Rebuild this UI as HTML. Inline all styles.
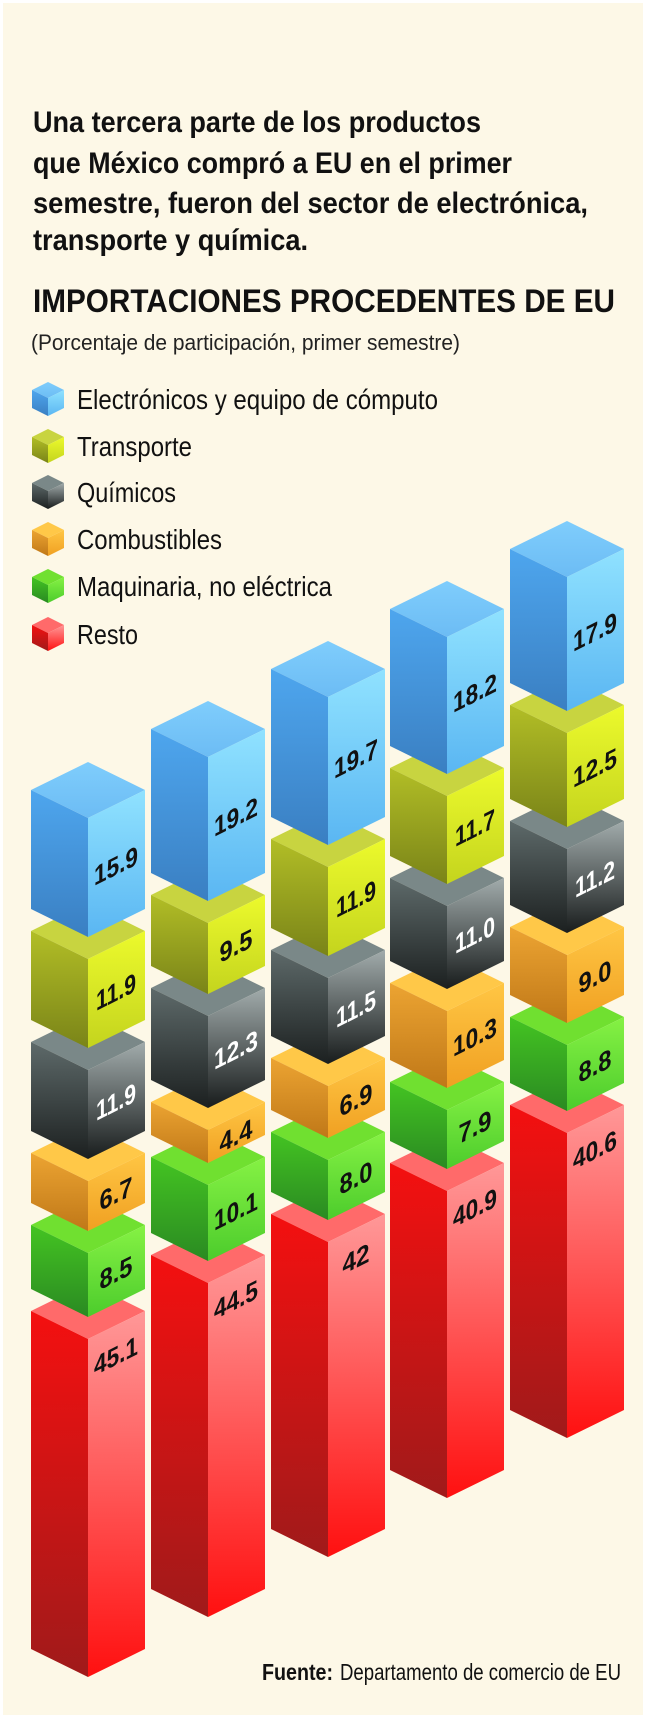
<!DOCTYPE html>
<html><head><meta charset="utf-8"><style>
html,body{margin:0;padding:0;background:#fff;}
svg{display:block;}
text{font-family:"Liberation Sans",sans-serif;}
</style></head><body>
<svg width="650" height="1718" viewBox="0 0 650 1718" xmlns="http://www.w3.org/2000/svg">
<defs>
<linearGradient id="bT" x1="0" y1="0" x2="0" y2="1"><stop offset="0" stop-color="#7fcdfc"/><stop offset="1" stop-color="#6cbcf4"/></linearGradient>
<linearGradient id="bL" x1="0" y1="0" x2="0" y2="1"><stop offset="0" stop-color="#4ea6ee"/><stop offset="1" stop-color="#3a7fc2"/></linearGradient>
<linearGradient id="bR" x1="0" y1="0" x2="0" y2="1"><stop offset="0" stop-color="#90e2ff"/><stop offset="1" stop-color="#5ab6f2"/></linearGradient>
<linearGradient id="yL" x1="0" y1="0" x2="0" y2="1"><stop offset="0" stop-color="#b2be26"/><stop offset="1" stop-color="#7a8418"/></linearGradient>
<linearGradient id="yR" x1="0" y1="0" x2="0" y2="1"><stop offset="0" stop-color="#ecfa2c"/><stop offset="1" stop-color="#c4d41e"/></linearGradient>
<linearGradient id="gL" x1="0" y1="0" x2="0" y2="1"><stop offset="0" stop-color="#5e6a6a"/><stop offset="1" stop-color="#1c2020"/></linearGradient>
<linearGradient id="gR" x1="0" y1="0" x2="0" y2="1"><stop offset="0" stop-color="#a2acac"/><stop offset="1" stop-color="#181c1c"/></linearGradient>
<linearGradient id="oL" x1="0" y1="0" x2="0" y2="1"><stop offset="0" stop-color="#eca432"/><stop offset="1" stop-color="#c07818"/></linearGradient>
<linearGradient id="oR" x1="0" y1="0" x2="0" y2="1"><stop offset="0" stop-color="#ffc644"/><stop offset="1" stop-color="#f0a022"/></linearGradient>
<linearGradient id="nL" x1="0" y1="0" x2="0" y2="1"><stop offset="0" stop-color="#44c422"/><stop offset="1" stop-color="#2a8a22"/></linearGradient>
<linearGradient id="nR" x1="0" y1="0" x2="0" y2="1"><stop offset="0" stop-color="#86f244"/><stop offset="1" stop-color="#4ccc2c"/></linearGradient>
<linearGradient id="rL" x1="0" y1="0" x2="0" y2="1"><stop offset="0" stop-color="#f41010"/><stop offset="1" stop-color="#a01a1a"/></linearGradient>
<linearGradient id="rR" x1="0" y1="0" x2="0" y2="1"><stop offset="0" stop-color="#ff9898"/><stop offset="1" stop-color="#ff1010"/></linearGradient>
</defs>
<rect x="3" y="3" width="640" height="1712" fill="#fdf8e7"/>

<g fill="#111">
<text x="33" y="132" font-size="30" font-weight="bold" textLength="448" lengthAdjust="spacingAndGlyphs">Una tercera parte de los productos</text>
<text x="33" y="173" font-size="30" font-weight="bold" textLength="479" lengthAdjust="spacingAndGlyphs">que México compró a EU en el primer</text>
<text x="33" y="213" font-size="30" font-weight="bold" textLength="555" lengthAdjust="spacingAndGlyphs">semestre, fueron del sector de electrónica,</text>
<text x="33" y="250" font-size="30" font-weight="bold" textLength="275" lengthAdjust="spacingAndGlyphs">transporte y química.</text>
<text x="33" y="312" font-size="32" font-weight="bold" textLength="582" lengthAdjust="spacingAndGlyphs">IMPORTACIONES PROCEDENTES DE EU</text>
<text x="31" y="350" font-size="22" textLength="429" lengthAdjust="spacingAndGlyphs" fill="#222">(Porcentaje de participación, primer semestre)</text>
</g>

<!-- legend -->
<g>
<g transform="translate(48,399)"><polygon points="-16,-9 0,-17 16,-9 0,-1" fill="url(#bT)"/><polygon points="-16,-9 0,-1 0,17 -16,9" fill="url(#bL)"/><polygon points="0,-1 16,-9 16,9 0,17" fill="url(#bR)"/></g>
<g transform="translate(48,446)"><polygon points="-16,-9 0,-17 16,-9 0,-1" fill="#c8d440"/><polygon points="-16,-9 0,-1 0,17 -16,9" fill="url(#yL)"/><polygon points="0,-1 16,-9 16,9 0,17" fill="url(#yR)"/></g>
<g transform="translate(48,492)"><polygon points="-16,-9 0,-17 16,-9 0,-1" fill="#7a8888"/><polygon points="-16,-9 0,-1 0,17 -16,9" fill="url(#gL)"/><polygon points="0,-1 16,-9 16,9 0,17" fill="url(#gR)"/></g>
<g transform="translate(48,539)"><polygon points="-16,-9 0,-17 16,-9 0,-1" fill="#ffc848"/><polygon points="-16,-9 0,-1 0,17 -16,9" fill="url(#oL)"/><polygon points="0,-1 16,-9 16,9 0,17" fill="url(#oR)"/></g>
<g transform="translate(48,586)"><polygon points="-16,-9 0,-17 16,-9 0,-1" fill="#70e030"/><polygon points="-16,-9 0,-1 0,17 -16,9" fill="url(#nL)"/><polygon points="0,-1 16,-9 16,9 0,17" fill="url(#nR)"/></g>
<g transform="translate(48,634)"><polygon points="-16,-9 0,-17 16,-9 0,-1" fill="#ff6a6a"/><polygon points="-16,-9 0,-1 0,17 -16,9" fill="url(#rL)"/><polygon points="0,-1 16,-9 16,9 0,17" fill="url(#rR)"/></g>
<g fill="#111" font-size="28">
<text x="77" y="409" textLength="361" lengthAdjust="spacingAndGlyphs">Electrónicos y equipo de cómputo</text>
<text x="77" y="456" textLength="115" lengthAdjust="spacingAndGlyphs">Transporte</text>
<text x="77" y="502" textLength="99" lengthAdjust="spacingAndGlyphs">Químicos</text>
<text x="77" y="549" textLength="145" lengthAdjust="spacingAndGlyphs">Combustibles</text>
<text x="77" y="596" textLength="255" lengthAdjust="spacingAndGlyphs">Maquinaria, no eléctrica</text>
<text x="77" y="644" textLength="61" lengthAdjust="spacingAndGlyphs">Resto</text>
</g>
</g>

<!-- Column 1 -->
<g transform="translate(31,0)">
<g transform="translate(0,1339)"><polygon points="0,-28 57,-56 114,-28 57,0" fill="#ff6a6a"/><polygon points="0,-28 57,0 57,338 0,310" fill="url(#rL)"/><polygon points="57,0 114,-28 114,310 57,338" fill="url(#rR)"/></g>
<g transform="translate(0,1253)"><polygon points="0,-28 57,-56 114,-28 57,0" fill="#70e030"/><polygon points="0,-28 57,0 57,64 0,36" fill="url(#nL)"/><polygon points="57,0 114,-28 114,36 57,64" fill="url(#nR)"/></g>
<g transform="translate(0,1181)"><polygon points="0,-28 57,-56 114,-28 57,0" fill="#ffc848"/><polygon points="0,-28 57,0 57,50 0,22" fill="url(#oL)"/><polygon points="57,0 114,-28 114,22 57,50" fill="url(#oR)"/></g>
<g transform="translate(0,1070)"><polygon points="0,-28 57,-56 114,-28 57,0" fill="#7a8888"/><polygon points="0,-28 57,0 57,89 0,61" fill="url(#gL)"/><polygon points="57,0 114,-28 114,61 57,89" fill="url(#gR)"/></g>
<g transform="translate(0,959)"><polygon points="0,-28 57,-56 114,-28 57,0" fill="#c8d440"/><polygon points="0,-28 57,0 57,89 0,61" fill="url(#yL)"/><polygon points="57,0 114,-28 114,61 57,89" fill="url(#yR)"/></g>
<g transform="translate(0,818)"><polygon points="0,-28 57,-56 114,-28 57,0" fill="url(#bT)"/><polygon points="0,-28 57,0 57,119 0,91" fill="url(#bL)"/><polygon points="57,0 114,-28 114,91 57,119" fill="url(#bR)"/></g>
</g>
<!-- Column 2 -->
<g transform="translate(151,0)">
<g transform="translate(0,1283)"><polygon points="0,-28 57,-56 114,-28 57,0" fill="#ff6a6a"/><polygon points="0,-28 57,0 57,334 0,306" fill="url(#rL)"/><polygon points="57,0 114,-28 114,306 57,334" fill="url(#rR)"/></g>
<g transform="translate(0,1185)"><polygon points="0,-28 57,-56 114,-28 57,0" fill="#70e030"/><polygon points="0,-28 57,0 57,76 0,48" fill="url(#nL)"/><polygon points="57,0 114,-28 114,48 57,76" fill="url(#nR)"/></g>
<g transform="translate(0,1130)"><polygon points="0,-28 57,-56 114,-28 57,0" fill="#ffc848"/><polygon points="0,-28 57,0 57,33 0,5" fill="url(#oL)"/><polygon points="57,0 114,-28 114,5 57,33" fill="url(#oR)"/></g>
<g transform="translate(0,1016)"><polygon points="0,-28 57,-56 114,-28 57,0" fill="#7a8888"/><polygon points="0,-28 57,0 57,92 0,64" fill="url(#gL)"/><polygon points="57,0 114,-28 114,64 57,92" fill="url(#gR)"/></g>
<g transform="translate(0,923)"><polygon points="0,-28 57,-56 114,-28 57,0" fill="#c8d440"/><polygon points="0,-28 57,0 57,71 0,43" fill="url(#yL)"/><polygon points="57,0 114,-28 114,43 57,71" fill="url(#yR)"/></g>
<g transform="translate(0,757)"><polygon points="0,-28 57,-56 114,-28 57,0" fill="url(#bT)"/><polygon points="0,-28 57,0 57,144 0,116" fill="url(#bL)"/><polygon points="57,0 114,-28 114,116 57,144" fill="url(#bR)"/></g>
</g>
<!-- Column 3 -->
<g transform="translate(271,0)">
<g transform="translate(0,1242)"><polygon points="0,-28 57,-56 114,-28 57,0" fill="#ff6a6a"/><polygon points="0,-28 57,0 57,315 0,287" fill="url(#rL)"/><polygon points="57,0 114,-28 114,287 57,315" fill="url(#rR)"/></g>
<g transform="translate(0,1160)"><polygon points="0,-28 57,-56 114,-28 57,0" fill="#70e030"/><polygon points="0,-28 57,0 57,60 0,32" fill="url(#nL)"/><polygon points="57,0 114,-28 114,32 57,60" fill="url(#nR)"/></g>
<g transform="translate(0,1086)"><polygon points="0,-28 57,-56 114,-28 57,0" fill="#ffc848"/><polygon points="0,-28 57,0 57,52 0,24" fill="url(#oL)"/><polygon points="57,0 114,-28 114,24 57,52" fill="url(#oR)"/></g>
<g transform="translate(0,978)"><polygon points="0,-28 57,-56 114,-28 57,0" fill="#7a8888"/><polygon points="0,-28 57,0 57,86 0,58" fill="url(#gL)"/><polygon points="57,0 114,-28 114,58 57,86" fill="url(#gR)"/></g>
<g transform="translate(0,867)"><polygon points="0,-28 57,-56 114,-28 57,0" fill="#c8d440"/><polygon points="0,-28 57,0 57,89 0,61" fill="url(#yL)"/><polygon points="57,0 114,-28 114,61 57,89" fill="url(#yR)"/></g>
<g transform="translate(0,697)"><polygon points="0,-28 57,-56 114,-28 57,0" fill="url(#bT)"/><polygon points="0,-28 57,0 57,148 0,120" fill="url(#bL)"/><polygon points="57,0 114,-28 114,120 57,148" fill="url(#bR)"/></g>
</g>
<!-- Column 4 -->
<g transform="translate(390,0)">
<g transform="translate(0,1191)"><polygon points="0,-28 57,-56 114,-28 57,0" fill="#ff6a6a"/><polygon points="0,-28 57,0 57,307 0,279" fill="url(#rL)"/><polygon points="57,0 114,-28 114,279 57,307" fill="url(#rR)"/></g>
<g transform="translate(0,1110)"><polygon points="0,-28 57,-56 114,-28 57,0" fill="#70e030"/><polygon points="0,-28 57,0 57,59 0,31" fill="url(#nL)"/><polygon points="57,0 114,-28 114,31 57,59" fill="url(#nR)"/></g>
<g transform="translate(0,1011)"><polygon points="0,-28 57,-56 114,-28 57,0" fill="#ffc848"/><polygon points="0,-28 57,0 57,77 0,49" fill="url(#oL)"/><polygon points="57,0 114,-28 114,49 57,77" fill="url(#oR)"/></g>
<g transform="translate(0,906)"><polygon points="0,-28 57,-56 114,-28 57,0" fill="#7a8888"/><polygon points="0,-28 57,0 57,83 0,55" fill="url(#gL)"/><polygon points="57,0 114,-28 114,55 57,83" fill="url(#gR)"/></g>
<g transform="translate(0,796)"><polygon points="0,-28 57,-56 114,-28 57,0" fill="#c8d440"/><polygon points="0,-28 57,0 57,88 0,60" fill="url(#yL)"/><polygon points="57,0 114,-28 114,60 57,88" fill="url(#yR)"/></g>
<g transform="translate(0,637)"><polygon points="0,-28 57,-56 114,-28 57,0" fill="url(#bT)"/><polygon points="0,-28 57,0 57,137 0,109" fill="url(#bL)"/><polygon points="57,0 114,-28 114,109 57,137" fill="url(#bR)"/></g>
</g>
<!-- Column 5 -->
<g transform="translate(510,0)">
<g transform="translate(0,1133)"><polygon points="0,-28 57,-56 114,-28 57,0" fill="#ff6a6a"/><polygon points="0,-28 57,0 57,305 0,277" fill="url(#rL)"/><polygon points="57,0 114,-28 114,277 57,305" fill="url(#rR)"/></g>
<g transform="translate(0,1045)"><polygon points="0,-28 57,-56 114,-28 57,0" fill="#70e030"/><polygon points="0,-28 57,0 57,66 0,38" fill="url(#nL)"/><polygon points="57,0 114,-28 114,38 57,66" fill="url(#nR)"/></g>
<g transform="translate(0,955)"><polygon points="0,-28 57,-56 114,-28 57,0" fill="#ffc848"/><polygon points="0,-28 57,0 57,68 0,40" fill="url(#oL)"/><polygon points="57,0 114,-28 114,40 57,68" fill="url(#oR)"/></g>
<g transform="translate(0,849)"><polygon points="0,-28 57,-56 114,-28 57,0" fill="#7a8888"/><polygon points="0,-28 57,0 57,84 0,56" fill="url(#gL)"/><polygon points="57,0 114,-28 114,56 57,84" fill="url(#gR)"/></g>
<g transform="translate(0,733)"><polygon points="0,-28 57,-56 114,-28 57,0" fill="#c8d440"/><polygon points="0,-28 57,0 57,94 0,66" fill="url(#yL)"/><polygon points="57,0 114,-28 114,66 57,94" fill="url(#yR)"/></g>
<g transform="translate(0,577)"><polygon points="0,-28 57,-56 114,-28 57,0" fill="url(#bT)"/><polygon points="0,-28 57,0 57,134 0,106" fill="url(#bL)"/><polygon points="57,0 114,-28 114,106 57,134" fill="url(#bR)"/></g>
</g>

<!-- labels -->
<g font-size="27" font-weight="bold" text-anchor="middle" fill="#111">
<g transform="translate(116,866) skewY(-26.57)"><text y="9" textLength="44" lengthAdjust="spacingAndGlyphs">15.9</text></g>
<g transform="translate(116,992) skewY(-26.57)"><text y="9" textLength="40" lengthAdjust="spacingAndGlyphs">11.9</text></g>
<g transform="translate(116,1102) skewY(-26.57)"><text y="9" fill="#fff" textLength="40" lengthAdjust="spacingAndGlyphs">11.9</text></g>
<g transform="translate(116,1194) skewY(-26.57)"><text y="9" textLength="33" lengthAdjust="spacingAndGlyphs">6.7</text></g>
<g transform="translate(116,1273) skewY(-26.57)"><text y="9" textLength="33" lengthAdjust="spacingAndGlyphs">8.5</text></g>
<g transform="translate(116,1356) skewY(-26.57)"><text y="9" textLength="44" lengthAdjust="spacingAndGlyphs">45.1</text></g>

<g transform="translate(236,817) skewY(-26.57)"><text y="9" textLength="44" lengthAdjust="spacingAndGlyphs">19.2</text></g>
<g transform="translate(236,946) skewY(-26.57)"><text y="9" textLength="33" lengthAdjust="spacingAndGlyphs">9.5</text></g>
<g transform="translate(236,1050) skewY(-26.57)"><text y="9" fill="#fff" textLength="44" lengthAdjust="spacingAndGlyphs">12.3</text></g>
<g transform="translate(236,1136) skewY(-26.57)"><text y="9" textLength="33" lengthAdjust="spacingAndGlyphs">4.4</text></g>
<g transform="translate(236,1211) skewY(-26.57)"><text y="9" textLength="44" lengthAdjust="spacingAndGlyphs">10.1</text></g>
<g transform="translate(236,1300) skewY(-26.57)"><text y="9" textLength="44" lengthAdjust="spacingAndGlyphs">44.5</text></g>

<g transform="translate(356,759) skewY(-26.57)"><text y="9" textLength="44" lengthAdjust="spacingAndGlyphs">19.7</text></g>
<g transform="translate(356,899) skewY(-26.57)"><text y="9" textLength="40" lengthAdjust="spacingAndGlyphs">11.9</text></g>
<g transform="translate(356,1009) skewY(-26.57)"><text y="9" fill="#fff" textLength="40" lengthAdjust="spacingAndGlyphs">11.5</text></g>
<g transform="translate(356,1100) skewY(-26.57)"><text y="9" textLength="33" lengthAdjust="spacingAndGlyphs">6.9</text></g>
<g transform="translate(356,1178) skewY(-26.57)"><text y="9" textLength="33" lengthAdjust="spacingAndGlyphs">8.0</text></g>
<g transform="translate(356,1259) skewY(-26.57)"><text y="9" textLength="27" lengthAdjust="spacingAndGlyphs">42</text></g>

<g transform="translate(475,693) skewY(-26.57)"><text y="9" textLength="44" lengthAdjust="spacingAndGlyphs">18.2</text></g>
<g transform="translate(475,828) skewY(-26.57)"><text y="9" textLength="40" lengthAdjust="spacingAndGlyphs">11.7</text></g>
<g transform="translate(475,935) skewY(-26.57)"><text y="9" fill="#fff" textLength="40" lengthAdjust="spacingAndGlyphs">11.0</text></g>
<g transform="translate(475,1037) skewY(-26.57)"><text y="9" textLength="44" lengthAdjust="spacingAndGlyphs">10.3</text></g>
<g transform="translate(475,1127) skewY(-26.57)"><text y="9" textLength="33" lengthAdjust="spacingAndGlyphs">7.9</text></g>
<g transform="translate(475,1208) skewY(-26.57)"><text y="9" textLength="44" lengthAdjust="spacingAndGlyphs">40.9</text></g>

<g transform="translate(595,632) skewY(-26.57)"><text y="9" textLength="44" lengthAdjust="spacingAndGlyphs">17.9</text></g>
<g transform="translate(595,768) skewY(-26.57)"><text y="9" textLength="44" lengthAdjust="spacingAndGlyphs">12.5</text></g>
<g transform="translate(595,879) skewY(-26.57)"><text y="9" fill="#fff" textLength="40" lengthAdjust="spacingAndGlyphs">11.2</text></g>
<g transform="translate(595,977) skewY(-26.57)"><text y="9" textLength="33" lengthAdjust="spacingAndGlyphs">9.0</text></g>
<g transform="translate(595,1066) skewY(-26.57)"><text y="9" textLength="33" lengthAdjust="spacingAndGlyphs">8.8</text></g>
<g transform="translate(595,1150) skewY(-26.57)"><text y="9" textLength="44" lengthAdjust="spacingAndGlyphs">40.6</text></g>
</g>

<g fill="#111" font-size="23">
<text x="262" y="1680" font-weight="bold" textLength="71" lengthAdjust="spacingAndGlyphs">Fuente:</text>
<text x="340" y="1680" textLength="281" lengthAdjust="spacingAndGlyphs">Departamento de comercio de EU</text>
</g>
</svg>
</body></html>
